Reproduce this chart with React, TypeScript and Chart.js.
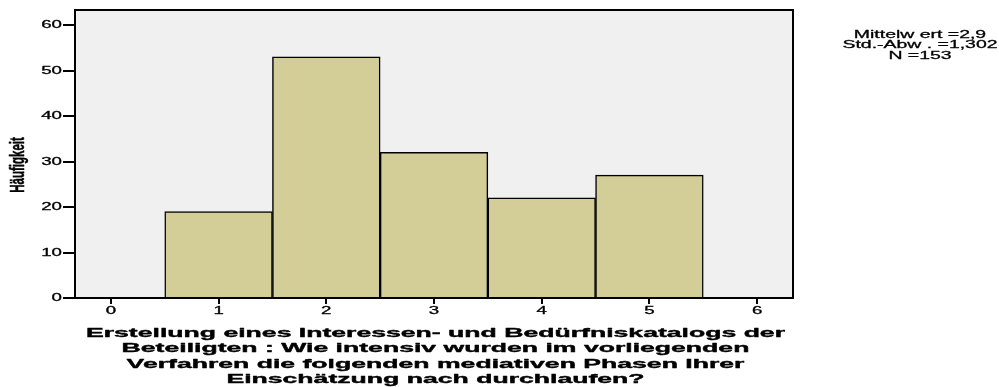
import React, { useEffect, useRef } from "react";
import { Chart, registerables } from "chart.js";

Chart.register(...registerables);

// ---- data ----
const categories = [1, 2, 3, 4, 5];
const frequencies = [19, 53, 32, 22, 27];
const xTickValues = [0, 1, 2, 3, 4, 5, 6];
const yTickValues = [0, 10, 20, 30, 40, 50, 60];
const xTitleLines = [
  "Erstellung eines Interessen- und Bedürfniskatalogs der",
  "Beteiligten : Wie intensiv wurden im vorliegenden",
  "Verfahren die folgenden mediativen Phasen Ihrer",
  "Einschätzung nach durchlaufen?",
];
const yTitle = "Häufigkeit";
const statsLines = ["Mittelw ert =2,9", "Std.-Abw . =1,302", "N =153"];

const FONT = '"Liberation Sans", Arial, Helvetica, sans-serif';

function drawStretched(
  ctx: CanvasRenderingContext2D,
  text: string,
  x: number,
  y: number,
  sx: number,
  align: CanvasTextAlign,
  strokeW = 0
) {
  ctx.save();
  ctx.translate(x, y);
  ctx.scale(sx, 1);
  ctx.textAlign = align;
  ctx.textBaseline = "middle";
  ctx.fillText(text, 0, 0);
  if (strokeW > 0) {
    ctx.lineWidth = strokeW;
    ctx.strokeStyle = "#000";
    ctx.lineJoin = "round";
    ctx.strokeText(text, 0, 0);
  }
  ctx.restore();
}

const spssPlugin = {
  id: "spssLook",
  beforeDraw(chart: any) {
    const { ctx, chartArea } = chart;
    ctx.save();
    ctx.fillStyle = "#F0F0F0";
    ctx.fillRect(
      chartArea.left,
      chartArea.top,
      chartArea.right - chartArea.left,
      chartArea.bottom - chartArea.top
    );
    ctx.restore();
  },
  afterDatasetsDraw(chart: any) {
    const { ctx, chartArea } = chart;
    ctx.save();
    ctx.strokeStyle = "#000";
    ctx.lineWidth = 2;
    ctx.strokeRect(
      chartArea.left,
      chartArea.top,
      chartArea.right - chartArea.left,
      chartArea.bottom - chartArea.top
    );
    ctx.restore();
  },
  afterDraw(chart: any) {
    const { ctx, chartArea, scales } = chart;
    ctx.save();
    ctx.fillStyle = "#000";

    // y tick labels
    ctx.font = `10.5px ${FONT}`;
    scales.y.ticks.forEach((t: any) => {
      const py = scales.y.getPixelForValue(t.value);
      drawStretched(ctx, String(t.value), chartArea.left - 13, py + 0.5, 1.78, "right", 0.3);
    });
    // x tick labels
    scales.x.ticks.forEach((t: any) => {
      const px = scales.x.getPixelForValue(t.value);
      drawStretched(ctx, String(t.value), px, chartArea.bottom + 13, 1.78, "center", 0.3);
    });

    // x title
    ctx.font = `bold 13.5px ${FONT}`;
    const cx = (chartArea.left + chartArea.right) / 2 + 1.5;
    xTitleLines.forEach((line, i) => {
      drawStretched(ctx, line, cx, 333 + i * 15.5, 1.97, "center", 0.4);
    });

    // y title (rotated)
    ctx.save();
    ctx.font = `bold 16px ${FONT}`;
    ctx.translate(18, 165);
    ctx.rotate(-Math.PI / 2);
    ctx.scale(0.72, 1.3);
    ctx.textAlign = "center";
    ctx.textBaseline = "middle";
    ctx.fillText(yTitle, 0, 0);
    ctx.lineWidth = 0.4;
    ctx.strokeStyle = "#000";
    ctx.strokeText(yTitle, 0, 0);
    ctx.restore();

    // stats box
    ctx.font = `11.5px ${FONT}`;
    statsLines.forEach((line, i) => {
      drawStretched(ctx, line, 920, 34.5 + i * 10.5, 1.69, "center", 0.3);
    });

    ctx.restore();
  },
};

export default function App() {
  const canvasRef = useRef<HTMLCanvasElement | null>(null);

  useEffect(() => {
    const canvas = canvasRef.current;
    if (!canvas) return;
    const chart = new Chart(canvas, {
      type: "bar",
      data: {
        datasets: [
          {
            label: yTitle,
            data: categories.map((c, i) => ({ x: c, y: frequencies[i] })),
            backgroundColor: "#D3CE98",
            borderColor: "#000",
            borderWidth: 1.5,
            barPercentage: 1,
            categoryPercentage: 1,
          },
        ],
      },
      options: {
        animation: false,
        responsive: false,
        devicePixelRatio: 1,
        events: [],
        layout: {
          autoPadding: false,
          padding: { left: 0, top: 10, right: 206, bottom: 0 },
        },
        plugins: {
          legend: { display: false },
          tooltip: { enabled: false },
          title: { display: false },
        },
        scales: {
          x: {
            type: "linear",
            min: -1 / 3,
            max: 19 / 3,
            offset: false,
            afterBuildTicks: (s: any) => {
              s.ticks = xTickValues.map((v) => ({ value: v }));
            },
            afterFit: (s: any) => {
              s.height = 89;
            },
            ticks: { display: false },
            border: { display: false },
            grid: {
              offset: false,
              drawOnChartArea: false,
              drawTicks: true,
              tickLength: 6,
              tickColor: "#000",
              tickWidth: 2,
              color: "#000",
              lineWidth: 2,
            },
          },
          y: {
            type: "linear",
            min: 0,
            max: 63.3,
            afterBuildTicks: (s: any) => {
              s.ticks = yTickValues.map((v) => ({ value: v }));
            },
            afterFit: (s: any) => {
              s.width = 75;
            },
            ticks: { display: false },
            border: { display: false },
            grid: {
              drawOnChartArea: false,
              drawTicks: true,
              tickLength: 12,
              tickColor: "#000",
              tickWidth: 2,
              color: "#000",
              lineWidth: 2,
            },
          },
        },
      },
      plugins: [spssPlugin],
    } as any);
    return () => chart.destroy();
  }, []);

  return (
    <div
      style={{
        position: "absolute",
        left: 0,
        top: 0,
        width: 999,
        height: 387,
        background: "#fff",
      }}
    >
      <canvas ref={canvasRef} width={999} height={387} />
    </div>
  );
}
